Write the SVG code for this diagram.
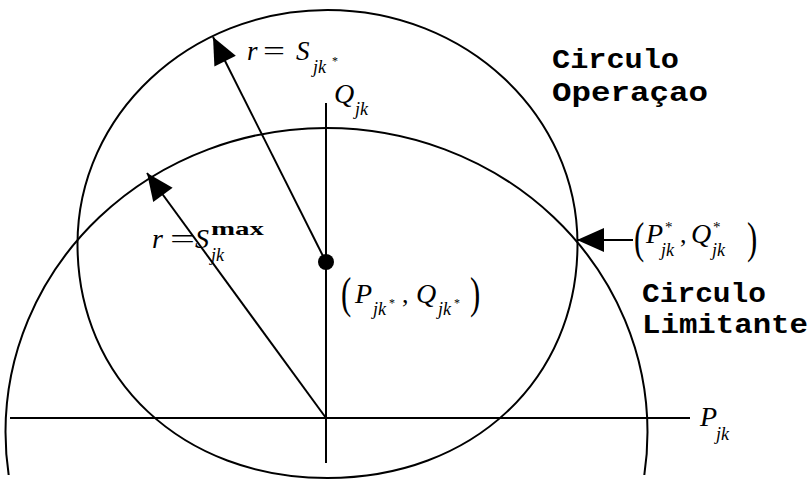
<svg xmlns="http://www.w3.org/2000/svg" width="809" height="481" viewBox="0 0 809 481">
<style>
.ln{fill:none;stroke:#000;stroke-width:2}
.m{font-family:"Liberation Serif","Times New Roman",serif;font-style:italic;fill:#000}
.up{font-family:"Liberation Serif","Times New Roman",serif;font-style:normal;fill:#000}
.lbl{font-family:"Liberation Mono","Courier New",monospace;font-weight:bold;font-size:28px;fill:#000}
</style>
<defs>
<marker id="ah" viewBox="-28 -13 29 26" markerWidth="29" markerHeight="26" refX="0" refY="0" orient="auto" markerUnits="userSpaceOnUse">
<path d="M0,0 L-27,-12 L-27,12 Z" fill="#000"/>
</marker>
<clipPath id="cl"><rect x="0" y="0" width="809" height="475"/></clipPath>
</defs>
<rect width="809" height="481" fill="#fff"/>

<g id="circles">
<path id="circulo-operacao" class="ln" d="M327.5,10 C465.6,10 577.5,114.8 577.5,244 C577.5,379.7 472.5,478 327.5,478 C182.5,478 77.5,379.7 77.5,244 C77.5,114.8 189.4,10 327.5,10 Z"/>
<ellipse id="circulo-limitante" class="ln" cx="326.5" cy="432" rx="321" ry="304" clip-path="url(#cl)"/>
</g>

<g id="axes">
<line class="ln" x1="326" y1="103" x2="326" y2="463"/>
<line class="ln" x1="10" y1="418" x2="690" y2="418"/>
</g>

<g id="connectors">
<line class="ln" x1="326" y1="262" x2="213" y2="37" marker-end="url(#ah)"/>
<line class="ln" x1="326" y1="418" x2="147" y2="173" marker-end="url(#ah)"/>
<line class="ln" x1="633" y1="240" x2="577" y2="240" marker-end="url(#ah)"/>
</g>

<g id="center-point">
<circle cx="326" cy="262" r="8" fill="#000"/>
</g>

<g id="label-r-op">
<text class="m" x="247" y="60" font-size="27">r</text>
<text class="up" x="263" y="60" font-size="27" textLength="22" lengthAdjust="spacingAndGlyphs">=</text>
<text class="m" x="296" y="60" font-size="27">S</text>
<text class="m" x="313" y="73" font-size="18">jk</text>
<text class="up" x="332" y="65" font-size="12">*</text>
</g>

<g id="label-q">
<text class="m" x="334" y="103" font-size="28">Q</text>
<text class="m" x="355" y="115" font-size="18">jk</text>
</g>

<g id="label-r-max">
<text class="m" x="152" y="248" font-size="28">r</text>
<text class="up" x="170" y="248" font-size="28" textLength="25" lengthAdjust="spacingAndGlyphs">=</text>
<text class="m" x="195" y="248" font-size="28">S</text>
<text class="up" x="211" y="235" font-size="19" font-weight="bold" textLength="53" lengthAdjust="spacingAndGlyphs">max</text>
<text class="m" x="211" y="261" font-size="18">jk</text>
</g>

<g id="label-pq-op">
<text class="up" x="341" y="308" font-size="44" transform="translate(341 0) scale(0.7 1) translate(-341 0)">(</text>
<text class="m" x="355" y="303" font-size="28">P</text>
<text class="m" x="373" y="315" font-size="18">jk</text>
<text class="up" x="389" y="307" font-size="12">*</text>
<text class="up" x="402" y="303" font-size="26">,</text>
<text class="m" x="416" y="303" font-size="28">Q</text>
<text class="m" x="438" y="315" font-size="18">jk</text>
<text class="up" x="454" y="307" font-size="12">*</text>
<text class="up" x="470" y="308" font-size="44" transform="translate(470 0) scale(0.7 1) translate(-470 0)">)</text>
</g>

<g id="label-pq-star">
<text class="up" x="634" y="253" font-size="44" transform="translate(634 0) scale(0.7 1) translate(-634 0)">(</text>
<text class="m" x="646" y="243" font-size="28">P</text>
<text class="up" x="665" y="232" font-size="15">*</text>
<text class="m" x="661" y="256" font-size="18">jk</text>
<text class="up" x="680" y="243" font-size="26">,</text>
<text class="m" x="691" y="243" font-size="28">Q</text>
<text class="up" x="713" y="232" font-size="15">*</text>
<text class="m" x="712" y="256" font-size="18">jk</text>
<text class="up" x="747" y="253" font-size="44" transform="translate(747 0) scale(0.7 1) translate(-747 0)">)</text>
</g>

<g id="label-p">
<text class="m" x="700" y="426" font-size="28">P</text>
<text class="m" x="716" y="440" font-size="18">jk</text>
</g>

<g id="label-operacao">
<text class="lbl" x="552" y="68" textLength="127" lengthAdjust="spacingAndGlyphs">Circulo</text>
<text class="lbl" x="552" y="101" textLength="156" lengthAdjust="spacingAndGlyphs">Operaçao</text>
</g>

<g id="label-limitante">
<text class="lbl" x="642" y="302" textLength="124" lengthAdjust="spacingAndGlyphs">Circulo</text>
<text class="lbl" x="642" y="333" textLength="166" lengthAdjust="spacingAndGlyphs">Limitante</text>
</g>
</svg>
